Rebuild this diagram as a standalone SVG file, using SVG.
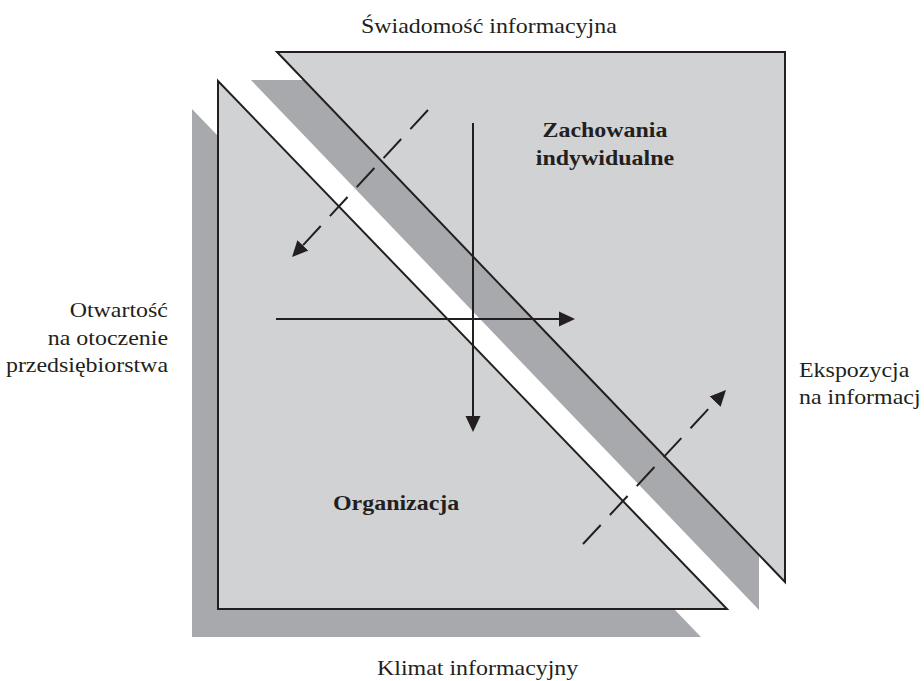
<svg xmlns="http://www.w3.org/2000/svg" width="924" height="681" viewBox="0 0 924 681">
<style>
.bg{fill:#ffffff}
.shadow{fill:#a8a9ac;stroke:none}
.tri{fill:#d1d2d4;stroke:#231f20;stroke-width:2;stroke-linejoin:miter}
.ln{fill:none;stroke:#231f20;stroke-width:2}
.dash{stroke-dasharray:26 13.5}
.t{font-family:"Liberation Serif","Times New Roman",serif;font-size:21px;fill:#231f20}
.b{font-weight:bold}
</style>
<defs>
<marker id="ah" markerUnits="userSpaceOnUse" markerWidth="20" markerHeight="20" viewBox="0 0 20 20" refX="0" refY="10" orient="auto">
<path d="M0,2.5 L16,10 L0,17.5 z" fill="#231f20"/>
</marker>
</defs>
<rect class="bg" x="0" y="0" width="924" height="681"/>
<g id="organizacja">
<polygon class="shadow" points="192,109 192,637 701,637"/>
<polygon class="tri" points="218,81 218,609 727,609"/>
<text class="t b" transform="translate(333,510) scale(1.14,1)">Organizacja</text>
</g>
<g id="zachowania">
<polygon class="shadow" points="251,80 759,80 759,610"/>
<polygon class="tri" points="277,52 785,52 785,582"/>
<text class="t b" text-anchor="middle" transform="translate(605,137) scale(1.14,1)">Zachowania</text>
<text class="t b" text-anchor="middle" transform="translate(605,165) scale(1.14,1)">indywidualne</text>
</g>
<g id="connectors">
<line class="ln" x1="473" y1="123" x2="473" y2="416" marker-end="url(#ah)"/>
<line class="ln" x1="276" y1="319" x2="559" y2="319" marker-end="url(#ah)"/>
<line class="ln dash" x1="428" y1="110" x2="302.9" y2="245.3" marker-end="url(#ah)"/>
<line class="ln dash" x1="583" y1="544" x2="715.1" y2="401.7" marker-end="url(#ah)"/>
</g>
<g id="label-top">
<text class="t" transform="translate(361,33) scale(1.14,1)">Świadomość informacyjna</text>
</g>
<g id="label-bottom">
<text class="t" transform="translate(377,675) scale(1.14,1)">Klimat informacyjny</text>
</g>
<g id="label-left">
<text class="t" text-anchor="end" transform="translate(168,317) scale(1.14,1)">Otwartość</text>
<text class="t" text-anchor="end" transform="translate(168,345) scale(1.14,1)">na otoczenie</text>
<text class="t" text-anchor="end" transform="translate(168,372) scale(1.14,1)">przedsiębiorstwa</text>
</g>
<g id="label-right">
<text class="t" transform="translate(799,377) scale(1.14,1)">Ekspozycja</text>
<text class="t" transform="translate(799,404) scale(1.14,1)">na informacj</text>
</g>
</svg>
